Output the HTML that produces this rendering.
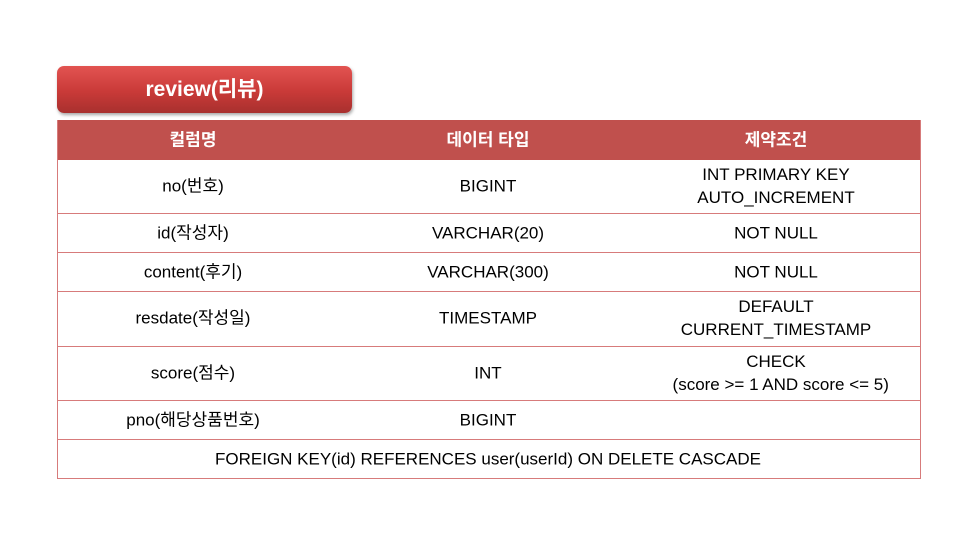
<!DOCTYPE html>
<html><head><meta charset="utf-8"><style>
body{margin:0;width:960px;height:545px;background:#fff;position:relative;overflow:hidden;font-family:"Liberation Sans","Noto Sans CJK KR",sans-serif;}
.btn{position:absolute;left:57px;top:66px;width:295px;height:47px;border-radius:7px;background:linear-gradient(#e25451,#c93a38 55%,#a8302e);box-shadow:1px 2px 3px rgba(0,0,0,0.35);color:#fff;font-weight:bold;font-size:21px;text-align:center;line-height:47px;}
.tbl{position:absolute;left:57px;top:120px;width:862px;height:358px;border-left:1px solid #d77b7b;border-right:1px solid #d77b7b;border-bottom:1px solid #d77b7b;}
.hdr{position:absolute;left:57px;top:120px;width:864px;height:40px;background:#c0504d;}
.line{position:absolute;left:57px;width:864px;height:1px;background:#d77b7b;}
.t{position:absolute;transform:translate(-50%,-50%);text-align:center;font-size:17px;color:#000;white-space:nowrap;line-height:23px;}
.h{color:#fff;font-weight:bold;}
</style></head><body>
<div class="btn">review(리뷰)</div>
<div class="hdr"></div>
<div class="tbl"></div>
<div class="line" style="top:213px"></div>
<div class="line" style="top:252px"></div>
<div class="line" style="top:291px"></div>
<div class="line" style="top:346px"></div>
<div class="line" style="top:400px"></div>
<div class="line" style="top:439px"></div>
<div class="t h" style="left:193px;top:140px">컬럼명</div>
<div class="t h" style="left:488px;top:140px">데이터 타입</div>
<div class="t h" style="left:776px;top:140px">제약조건</div>

<div class="t" style="left:193px;top:186px">no(번호)</div>
<div class="t" style="left:488px;top:186px">BIGINT</div>
<div class="t" style="left:776px;top:186px">INT PRIMARY KEY<br>AUTO_INCREMENT</div>

<div class="t" style="left:193px;top:233px">id(작성자)</div>
<div class="t" style="left:488px;top:233px">VARCHAR(20)</div>
<div class="t" style="left:776px;top:233px">NOT NULL</div>

<div class="t" style="left:193px;top:272px">content(후기)</div>
<div class="t" style="left:488px;top:272px">VARCHAR(300)</div>
<div class="t" style="left:776px;top:272px">NOT NULL</div>

<div class="t" style="left:193px;top:318px">resdate(작성일)</div>
<div class="t" style="left:488px;top:318px">TIMESTAMP</div>
<div class="t" style="left:776px;top:318px">DEFAULT<br>CURRENT_TIMESTAMP</div>

<div class="t" style="left:193px;top:373px">score(점수)</div>
<div class="t" style="left:488px;top:373px">INT</div>
<div class="t" style="left:776px;top:373px">CHECK<br>&nbsp;&nbsp;(score &gt;= 1 AND score &lt;= 5)</div>

<div class="t" style="left:193px;top:420px">pno(해당상품번호)</div>
<div class="t" style="left:488px;top:420px">BIGINT</div>

<div class="t" style="left:488px;top:459px">FOREIGN KEY(id) REFERENCES user(userId) ON DELETE CASCADE</div>
</body></html>
